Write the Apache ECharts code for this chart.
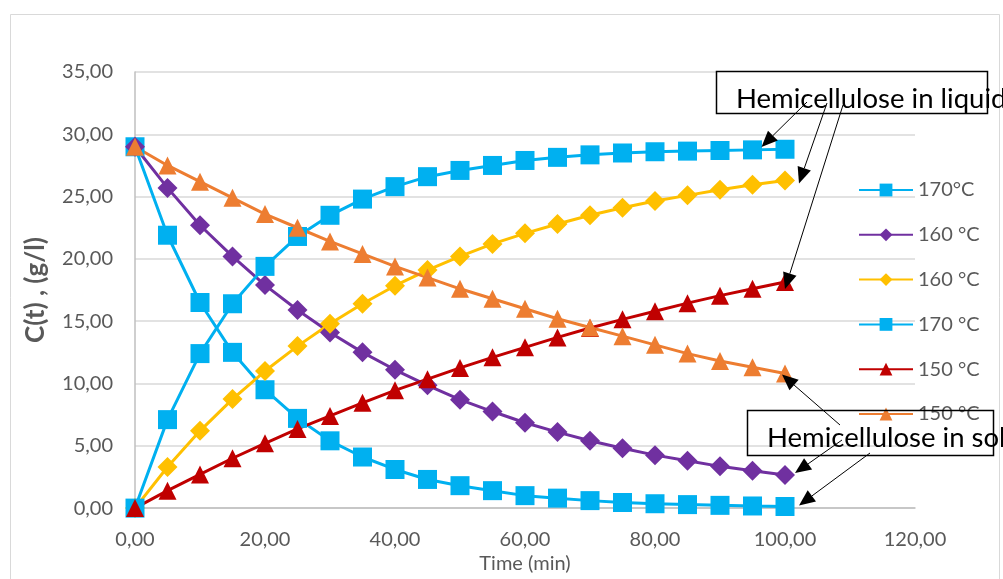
<!DOCTYPE html>
<html>
<head>
<meta charset="utf-8">
<script src="https://cdn.jsdelivr.net/npm/echarts@6/dist/echarts.min.js"></script>
<style>
  html, body { margin: 0; padding: 0; background: #ffffff; overflow: hidden; }
  #chart { position: absolute; left: 0; top: 0; width: 1003px; height: 579px; }
</style>
</head>
<body>
<div id="chart"></div>
<script>
// Sampling times (min)
const timeMin = [0, 5, 10, 15, 20, 25, 30, 35, 40, 45, 50, 55, 60, 65, 70, 75, 80, 85, 90, 95, 100];

// Hemicellulose remaining in the solid (g/l)
const solid170 = [29.0, 21.9, 16.5, 12.5, 9.5, 7.2, 5.4, 4.1, 3.1, 2.3, 1.8, 1.4, 1.0, 0.8, 0.6, 0.45, 0.35, 0.28, 0.22, 0.17, 0.13];
const solid160 = [29.0, 25.7, 22.7, 20.2, 17.9, 15.9, 14.1, 12.5, 11.1, 9.85, 8.7, 7.75, 6.85, 6.1, 5.4, 4.8, 4.25, 3.8, 3.35, 3.0, 2.65];
const solid150 = [29.0, 27.5, 26.2, 24.9, 23.6, 22.5, 21.4, 20.4, 19.4, 18.5, 17.6, 16.8, 16.0, 15.2, 14.5, 13.8, 13.1, 12.4, 11.8, 11.3, 10.8];

// Hemicellulose released into the liquid (g/l)
const liquid160 = [0, 3.3, 6.2, 8.75, 11.0, 13.0, 14.8, 16.4, 17.85, 19.1, 20.2, 21.2, 22.05, 22.8, 23.5, 24.1, 24.65, 25.1, 25.55, 25.95, 26.3];
const liquid170 = [0, 7.1, 12.4, 16.4, 19.4, 21.8, 23.5, 24.8, 25.8, 26.6, 27.1, 27.5, 27.9, 28.15, 28.35, 28.5, 28.6, 28.65, 28.7, 28.75, 28.8];
const liquid150 = [0, 1.4, 2.7, 4.0, 5.2, 6.35, 7.4, 8.45, 9.45, 10.35, 11.25, 12.1, 12.9, 13.7, 14.45, 15.15, 15.8, 16.45, 17.05, 17.6, 18.15];

// Legend labels (the part before "|" is displayed)
const seriesNames = ['170°C|solid', '160 °C|solid', '160 °C|liquid', '170 °C|liquid', '150 °C|liquid', '150 °C|solid'];

const xTicks = { min: 0, max: 120, step: 20 };
const yTicks = { min: 0, max: 35, step: 5 };

const annotationLiquid = 'Hemicellulose in liquid';
const annotationSolid = 'Hemicellulose in solid';

const FONT = 'Lato, "Open Sans", sans-serif';
const GREY = '#595959';

function pairs(values) {
  return timeMin.map((t, i) => [t, values[i]]);
}
function fmt(v) {
  return v.toFixed(2).replace('.', ',');
}

function lineSeries(name, values, color, symbol, size) {
  return {
    name: name,
    type: 'line',
    data: pairs(values),
    symbol: symbol,
    symbolSize: size,
    showAllSymbol: true,
    lineStyle: { color: color, width: 3 },
    itemStyle: { color: color },
    emphasis: { disabled: true },
    animation: false
  };
}

const chart = echarts.init(document.getElementById('chart'), null, { renderer: 'canvas', width: 1003, height: 579 });

const option = {
  backgroundColor: '#ffffff',
  animation: false,
  grid: { left: 135, right: 88, top: 72, bottom: 63, containLabel: false },
  xAxis: {
    type: 'value',
    min: xTicks.min, max: xTicks.max, interval: xTicks.step,
    name: 'Time (min)',
    nameLocation: 'middle',
    nameGap: 36,
    nameTextStyle: { color: GREY, fontFamily: FONT, fontSize: 20 },
    axisLine: { show: true, lineStyle: { color: '#bfbfbf', width: 1.5 } },
    axisTick: { show: false },
    splitLine: { show: false },
    axisLabel: { color: GREY, fontFamily: FONT, fontSize: 20, margin: 21, formatter: fmt }
  },
  yAxis: {
    type: 'value',
    min: yTicks.min, max: yTicks.max, interval: yTicks.step,
    name: 'C(t) , (g/l)',
    nameLocation: 'middle',
    nameGap: 86,
    nameTextStyle: { color: GREY, fontFamily: FONT, fontSize: 26, fontWeight: 'bold' },
    axisLine: { show: true, lineStyle: { color: '#bfbfbf', width: 1.5 } },
    axisTick: { show: false },
    splitLine: { show: true, lineStyle: { color: '#d9d9d9', width: 1.5 } },
    axisLabel: { color: GREY, fontFamily: FONT, fontSize: 20, margin: 22, formatter: fmt }
  },
  legend: {
    orient: 'vertical',
    left: 853,
    top: 175,
    itemWidth: 54,
    itemHeight: 16,
    itemGap: 24.8,
    selectedMode: false,
    formatter: name => name.split('|')[0],
    textStyle: { color: GREY, fontFamily: FONT, fontSize: 20, padding: [0, 0, 0, 0] },
    data: seriesNames
  },
  series: [
    lineSeries(seriesNames[0], solid170, '#00b0f0', 'rect', 19),
    lineSeries(seriesNames[1], solid160, '#7030a0', 'diamond', 20),
    lineSeries(seriesNames[2], liquid160, '#ffc000', 'diamond', 20),
    lineSeries(seriesNames[3], liquid170, '#00b0f0', 'rect', 19),
    lineSeries(seriesNames[4], liquid150, '#c00000', 'triangle', 18),
    lineSeries(seriesNames[5], solid150, '#ed7d31', 'triangle', 18)
  ]
};

chart.setOption(option);

// Annotation arrows: tail in pixels, head anchored to a data point of a series
function arrow(from, to) {
  const dx = to[0] - from[0], dy = to[1] - from[1];
  const len = Math.sqrt(dx * dx + dy * dy);
  const ux = dx / len, uy = dy / len;
  const headLen = 16, headHalf = 7;
  const bx = to[0] - ux * headLen, by = to[1] - uy * headLen;
  return [
    { type: 'line', shape: { x1: from[0], y1: from[1], x2: bx, y2: by }, style: { stroke: '#000', lineWidth: 1 }, z: 100 },
    { type: 'polygon', shape: { points: [to, [bx - uy * headHalf, by + ux * headHalf], [bx + uy * headHalf, by - ux * headHalf]] }, style: { fill: '#000' }, z: 100 }
  ];
}
function at(t, values, ox, oy) {
  const p = chart.convertToPixel({ gridIndex: 0 }, [t, values[timeMin.indexOf(t)]]);
  return [p[0] + ox, p[1] + oy];
}

const graphics = [
  // chart frame
  { type: 'rect', shape: { x: 10.5, y: 14.5, width: 989, height: 600 }, style: { fill: null, stroke: '#d9d9d9', lineWidth: 1 }, z: 0, silent: true },
  // liquid annotation box
  { type: 'rect', shape: { x: 716.5, y: 71.5, width: 271, height: 42 }, style: { fill: '#ffffff', stroke: '#000', lineWidth: 1.5 }, z: 90 },
  { type: 'text', x: 736, y: 99, style: { text: annotationLiquid, font: '27.5px ' + FONT, fill: '#000', verticalAlign: 'middle' }, z: 101 },
  // solid annotation box
  { type: 'rect', shape: { x: 747.5, y: 410.5, width: 246, height: 45 }, style: { fill: null, stroke: '#000', lineWidth: 1.5 }, z: 90 },
  { type: 'text', x: 767, y: 438, style: { text: annotationSolid, font: '27.5px ' + FONT, fill: '#000', verticalAlign: 'middle' }, z: 101 }
];
[
  [[807, 102], at(95, liquid170, 9, -3)],
  [[827, 103], at(100, liquid160, 14, 3)],
  [[843, 105], at(100, liquid150, 0, 7)],
  [[840, 425], at(100, solid150, -3, 1)],
  [[842, 440], at(100, solid160, 10, -2)],
  [[870, 453], at(100, solid170, 14, -1)]
].forEach(a => arrow(a[0], a[1]).forEach(g => graphics.push(g)));

chart.setOption({ graphic: graphics });
</script>
</body>
</html>
